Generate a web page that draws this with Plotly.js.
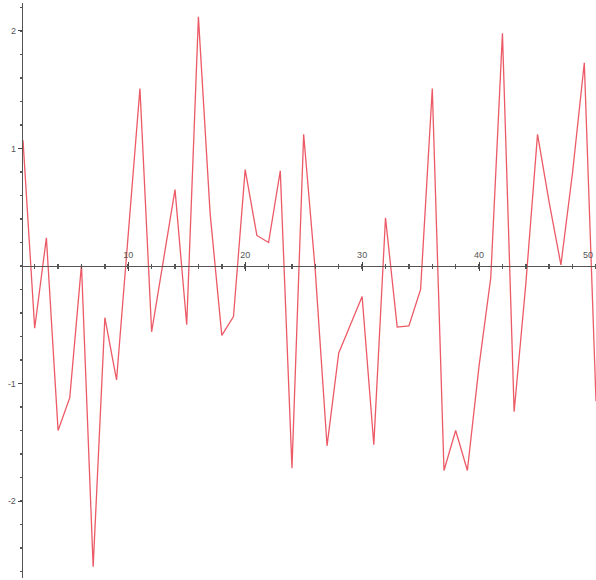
<!DOCTYPE html>
<html>
<head>
<meta charset="utf-8">
<script src="https://cdn.plot.ly/plotly-3.0.1.min.js"></script>
<style>html,body{margin:0;padding:0;background:#fff;}#chart{width:596px;height:580px;}</style>
</head>
<body>
<div id="chart"></div>
<script>
// Data
const xIndex = [1,2,3,4,5,6,7,8,9,10,11,12,13,14,15,16,17,18,19,20,21,22,23,24,25,26,27,28,29,30,31,32,33,34,35,36,37,38,39,40,41,42,43,44,45,46,47,48,49,50];
const values = [1.07,-0.53,0.24,-1.40,-1.12,0.01,-2.56,-0.44,-0.97,0.26,1.51,-0.56,0.04,0.65,-0.50,2.12,0.45,-0.59,-0.43,0.82,0.26,0.20,0.81,-1.72,1.12,-0.05,-1.53,-0.74,-0.50,-0.26,-1.52,0.41,-0.52,-0.51,-0.20,1.51,-1.74,-1.40,-1.74,-0.85,-0.10,1.98,-1.24,-0.15,1.12,0.54,0.01,0.80,1.73,-1.15];
const xTickVals = [10,20,30,40,50];
const xTickText = ["10","20","30","40","50"];
const yTickVals = [-2,-1,1,2];
const yTickText = ["-2","-1","1","2"];

const yMin = -2.655, yMax = 2.238;
const zeroPos = (0 - yMin) / (yMax - yMin);

const traces = [
  {x: xIndex, y: values, type: 'scatter', mode: 'lines',
   line: {color: '#ec5a66', width: 1.3}, hoverinfo: 'skip', showlegend: false},
  {x: xIndex, y: values, type: 'scatter', mode: 'lines', xaxis: 'x2',
   line: {color: 'rgba(0,0,0,0)', width: 0}, hoverinfo: 'skip', showlegend: false}
];

const tickFont = {family: 'Liberation Sans, Arial, sans-serif', size: 9, color: '#555'};

// last x tick label sits on the right edge; keep it fully inside the page
const lastIdx = xTickVals.length - 1;
const annotations = [{
  x: xTickVals[lastIdx], y: 0, xref: 'x', yref: 'y', text: xTickText[lastIdx],
  showarrow: false, xanchor: 'right', yanchor: 'bottom', yshift: 4, xshift: -1,
  font: tickFont
}];

const layout = {
  width: 596, height: 580,
  margin: {l: 23, r: 0, t: 3, b: 2, pad: 0},
  paper_bgcolor: '#fff', plot_bgcolor: '#fff',
  showlegend: false,
  annotations: annotations,
  xaxis: {
    range: [1, 50], anchor: 'free', position: zeroPos, side: 'top',
    showline: true, linecolor: '#555', linewidth: 1.3,
    showgrid: false, zeroline: false,
    tickmode: 'array', tickvals: xTickVals, ticktext: xTickText,
    ticks: 'outside', ticklen: 4, tickwidth: 1, tickcolor: '#444',
    tickfont: tickFont,
    minor: {dtick: 2, tick0: 0, ticks: 'outside', ticklen: 2, tickwidth: 1.5, tickcolor: '#555', showgrid: false}
  },
  xaxis2: {
    range: [1, 50], overlaying: 'x', anchor: 'free', position: zeroPos, side: 'bottom',
    showline: false, showgrid: false, zeroline: false, showticklabels: false,
    tickmode: 'array', tickvals: xTickVals,
    ticks: 'outside', ticklen: 4, tickwidth: 1, tickcolor: '#444',
    minor: {dtick: 2, tick0: 0, ticks: 'outside', ticklen: 2, tickwidth: 1.5, tickcolor: '#555', showgrid: false}
  },
  yaxis: {
    range: [yMin, yMax],
    showline: true, linecolor: '#555', linewidth: 1.3,
    showgrid: false, zeroline: false,
    tickmode: 'array', tickvals: yTickVals, ticktext: yTickText,
    ticks: 'outside', ticklen: 4, tickwidth: 1, tickcolor: '#444',
    tickfont: tickFont,
    minor: {dtick: 0.2, tick0: 0, ticks: 'outside', ticklen: 2, tickwidth: 1.5, tickcolor: '#555', showgrid: false}
  }
};

Plotly.newPlot('chart', traces, layout, {staticPlot: true, displayModeBar: false});
</script>
</body>
</html>
